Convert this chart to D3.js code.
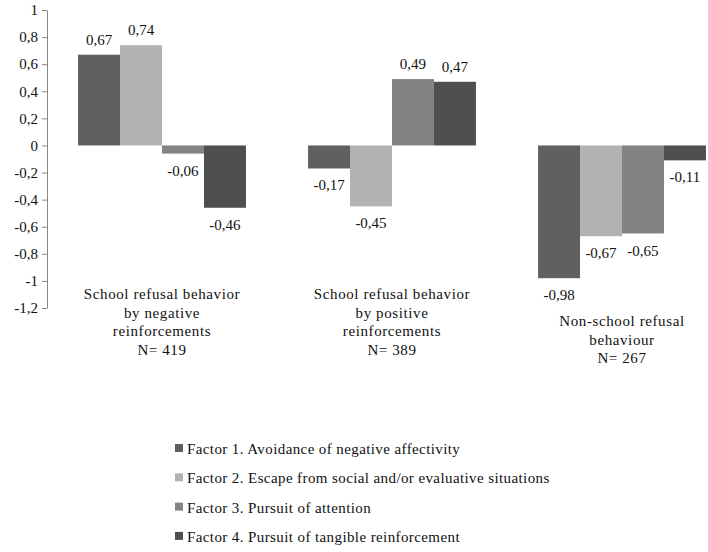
<!DOCTYPE html>
<html>
<head>
<meta charset="utf-8">
<script src="https://cdn.jsdelivr.net/npm/d3@7"></script>
<style>
  body { margin: 0; background: #fff; }
</style>
</head>
<body>
<div id="chart"></div>
<script>
const groups = [
  ["School refusal behavior", "by negative", "reinforcements", "N= 419"],
  ["School refusal behavior", "by positive", "reinforcements", "N= 389"],
  ["Non-school refusal", "behaviour", "N= 267"]
];
const factors = [
  "Factor 1. Avoidance of negative affectivity",
  "Factor 2. Escape from social and/or evaluative situations",
  "Factor 3. Pursuit of attention",
  "Factor 4. Pursuit of tangible reinforcement"
];
const factor1 = [0.67, -0.17, -0.98];
const factor2 = [0.74, -0.45, -0.67];
const factor3 = [-0.06, 0.49, -0.65];
const factor4 = [-0.46, 0.47, -0.11];
const yTicks = [1, 0.8, 0.6, 0.4, 0.2, 0, -0.2, -0.4, -0.6, -0.8, -1, -1.2];
const colors = ["#606060", "#b2b2b2", "#838383", "#4f4f4f"];

const series = [factor1, factor2, factor3, factor4];
const W = 708, H = 552;
const axisX = 47;
const FONT = '"Liberation Serif"';

const svg = d3.select("#chart").append("svg")
  .attr("width", W).attr("height", H);

const y = d3.scaleLinear().domain([-1.2, 1]).range([308, 10]);
const x0 = d3.scaleBand().domain(d3.range(groups.length))
  .range([axisX, axisX + 690]).paddingInner(0.27).paddingOuter(0.135);
const x1 = d3.scaleBand().domain(d3.range(factors.length))
  .range([0, x0.bandwidth()]);

// y axis
const yAxis = svg.append("g")
  .attr("transform", `translate(${axisX},0)`)
  .call(d3.axisLeft(y).tickValues(yTicks).tickSize(5).tickSizeOuter(0)
    .tickFormat(d => String(d).replace(".", ",")));
yAxis.select(".domain").attr("stroke", "#888");
yAxis.selectAll(".tick line").attr("stroke", "#888");
yAxis.selectAll(".tick text")
  .attr("x", -9)
  .attr("fill", "#111")
  .style("font-family", FONT)
  .style("font-size", "15px");

// bars + value labels
const fmt = v => String(v).replace(".", ",");
series.forEach((vals, fi) => {
  const g = svg.append("g");
  g.selectAll("rect").data(vals).join("rect")
    .attr("x", (d, gi) => x0(gi) + x1(fi))
    .attr("width", x1.bandwidth())
    .attr("y", d => y(Math.max(0, d)))
    .attr("height", d => Math.abs(y(d) - y(0)))
    .attr("fill", colors[fi]);
  g.selectAll("text").data(vals).join("text")
    .attr("x", (d, gi) => x0(gi) + x1(fi) + x1.bandwidth() / 2)
    .attr("y", d => d >= 0 ? y(d) - 10 : y(d) + 22)
    .attr("text-anchor", "middle")
    .attr("fill", "#111")
    .style("font-family", FONT)
    .style("font-size", "15px")
    .text(d => fmt(d));
});

// category labels
groups.forEach((lines, gi) => {
  const cx = x0(gi) + x0.bandwidth() / 2;
  const top = gi === 2 ? 326 : 299;
  const t = svg.append("text")
    .attr("text-anchor", "middle")
    .attr("fill", "#111")
    .style("font-family", FONT)
    .style("font-size", "15px")
    .style("letter-spacing", "0.6px");
  lines.forEach((ln, li) => {
    t.append("tspan").attr("x", cx).attr("y", top + li * 18.5).text(ln);
  });
});

// legend
const legend = svg.append("g");
factors.forEach((f, i) => {
  const ly = 449 + i * 29.3;
  legend.append("rect")
    .attr("x", 175).attr("y", ly - 5).attr("width", 8).attr("height", 8)
    .attr("fill", colors[i]);
  legend.append("text")
    .attr("x", 187).attr("y", ly + 5)
    .attr("fill", "#111")
    .style("font-family", FONT)
    .style("font-size", "15px")
    .style("letter-spacing", "0.4px")
    .text(f);
});
</script>
</body>
</html>
